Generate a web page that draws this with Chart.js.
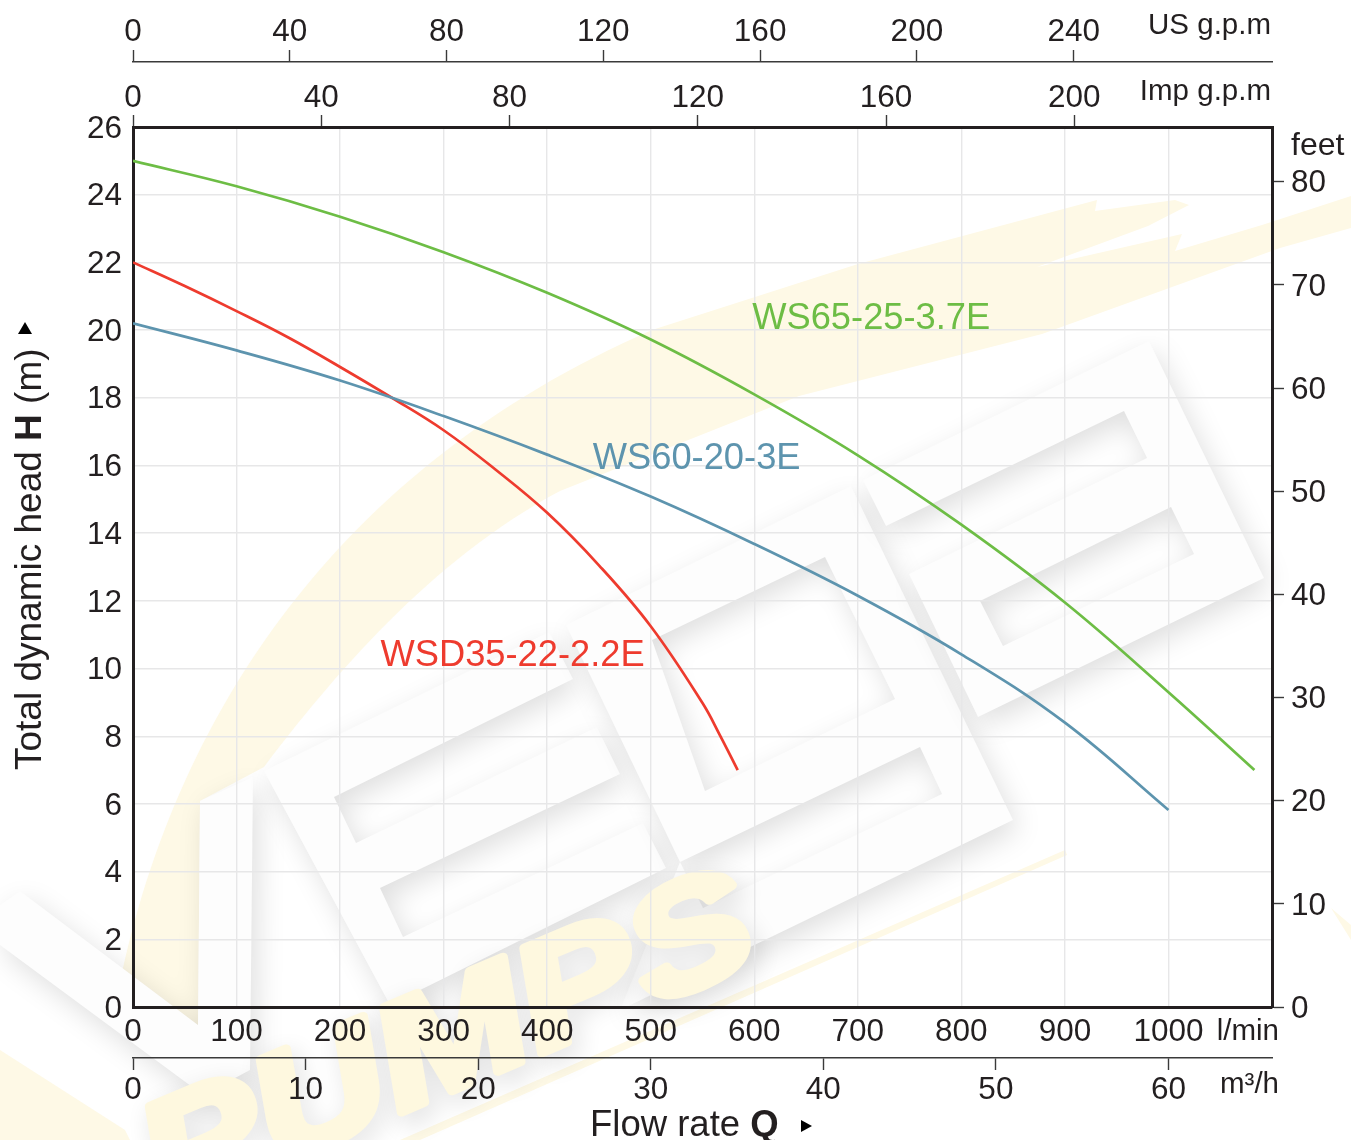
<!DOCTYPE html>
<html><head><meta charset="utf-8">
<style>html,body{margin:0;padding:0;background:#fff}canvas{display:block}</style>
<script src="https://cdn.jsdelivr.net/npm/chart.js@4"></script>
</head><body><canvas id="c" width="1351" height="1140"></canvas>
<script>
// Series values (flow in l/min, head in m)
const greenFlow=[0,100,200,300,400,500,600,700,800,900,1000,1083];
const greenHead=[25.0,24.25,23.35,22.3,21.1,19.72,18.1,16.3,14.25,11.95,9.3,7.0];
const blueFlow=[0,100,200,300,400,500,600,700,800,900,1000];
const blueHead=[20.2,19.4,18.51,17.46,16.32,15.08,13.68,12.15,10.42,8.4,5.82];
const redFlow=[0,50,100,150,200,250,300,350,400,450,500,550,567,584];
const redHead=[22.0,21.3,20.56,19.78,18.91,18.0,17.04,15.88,14.6,13.05,11.25,8.98,8.02,7.0];
const seriesNames=['WS65-25-3.7E','WS60-20-3E','WSD35-22-2.2E'];
const seriesColors=['#6dbd45','#5d94ae','#ee3b2e'];
const labelFlow=[598,444,239];
const labelHead=[20.33,16.19,10.36];
// Axis ranges and tick labels
const lpmMax=1100, headMax=26, feetMax=85.3, m3hMax=66, impMax=242, usMax=290.6;
const lpmTicks=[0,100,200,300,400,500,600,700,800,900,1000];
const m3hTicks=[0,10,20,30,40,50,60];
const impTicks=[0,40,80,120,160,200];
const usTicks=[0,40,80,120,160,200,240];
const headTicks=[0,2,4,6,8,10,12,14,16,18,20,22,24,26];
const feetTicks=[0,10,20,30,40,50,60,70,80];
const unitTexts=['US g.p.m','Imp g.p.m','feet','l/min','m³/h'];
const FONT='"Liberation Sans"';
const INK='#231f20';

function toPts(xs,ys){return xs.map((x,i)=>({x,y:ys[i]}));}
function poly(ctx,p){ctx.moveTo(p[0][0],p[0][1]);for(let i=1;i<p.length;i++)ctx.lineTo(p[i][0],p[i][1]);ctx.closePath();}
function useTicks(list){return s=>{s.ticks=list.map(v=>({value:v}));};}

const watermark={id:'watermark',beforeDraw(chart){
  const ctx=chart.ctx;ctx.save();
  ctx.fillStyle='#fff';ctx.fillRect(0,0,1351,1140);
  // yellow swoosh
  ctx.fillStyle='#fef9e6';
  ctx.beginPath();
  ctx.moveTo(115,1010);
  ctx.bezierCurveTo(165,730,330,470,652,330);
  [[858,264],[1097,200],[1095,211],[1175,200],[1189,205],[1148,226],[1037,267],[1182,234],[1175,251],[1262,225],[1351,196],[1351,228],[1280,248],[1042,334],[799,396],[560,491]].forEach(p=>ctx.lineTo(p[0],p[1]));
  ctx.bezierCurveTo(430,560,330,680,264,767);
  [[200,801],[198,1030],[150,1000]].forEach(p=>ctx.lineTo(p[0],p[1]));
  ctx.closePath();ctx.fill();
  // thin stripes
  ctx.beginPath();poly(ctx,[[1065,850],[1067,855],[420,1140],[400,1140]]);ctx.fill();
  ctx.beginPath();poly(ctx,[[1331,908],[1351,925],[1351,940]]);ctx.fill();
  ctx.beginPath();poly(ctx,[[0,1050],[125,1130],[130,1140],[0,1140]]);ctx.fill();
  // logo blocks with soft shadows
  ctx.shadowColor='rgba(0,0,0,0.13)';ctx.shadowBlur=28;ctx.shadowOffsetX=6;ctx.shadowOffsetY=9;
  ctx.fillStyle='#fdfdfd';
  const blocks=[
   [[[20,891],[198,1025],[200,801],[253,777],[250,1070],[203,1095],[0,945],[0,905]]],
   [[[264,771],[549,632],[573,679],[334,797],[356,843],[597,727],[620,774],[380,888],[403,937],[643,823],[666,868],[390,1005]]],
   [[[566,625],[851,486],[1013,820],[620,1010],[680,862],[703,908],[942,794],[920,747],[680,862]],[[652,640],[825,557],[895,699],[705,791]]],
   [[[863,480],[886,526],[1124,411],[1147,458],[909,574],[978,717],[1264,578],[1149,341]],[[980,601],[1171,507],[1194,554],[1003,646]]]
  ];
  blocks.forEach(parts=>{ctx.beginPath();parts.forEach(p=>poly(ctx,p));ctx.fill('evenodd');});
  // PUMPS lettering
  ctx.save();
  ctx.translate(165,1212);ctx.rotate(-0.40);ctx.scale(1.22,1);
  ctx.font='italic bold 150px '+FONT;ctx.fillStyle='#fef8df';ctx.strokeStyle='#fef8df';ctx.lineWidth=9;ctx.lineJoin='round';
  ctx.textAlign='left';ctx.textBaseline='alphabetic';
  ctx.shadowColor='rgba(0,0,0,0.16)';ctx.shadowBlur=24;ctx.shadowOffsetX=6;ctx.shadowOffsetY=8;
  ctx.strokeText('PUMPS',0,0);
  ctx.shadowColor='transparent';
  ctx.fillText('PUMPS',0,0);
  ctx.restore();
  ctx.restore();
}};

const annotations={id:'annotations',afterDraw(chart){
  const ctx=chart.ctx,sx=chart.scales.x,sy=chart.scales.y;ctx.save();
  ctx.textBaseline='middle';
  // curve labels
  ctx.font='36.3px '+FONT;ctx.textAlign='left';
  seriesNames.forEach((n,i)=>{ctx.fillStyle=seriesColors[i];ctx.fillText(n,sx.getPixelForValue(labelFlow[i]),sy.getPixelForValue(labelHead[i]));});
  // unit labels
  ctx.fillStyle=INK;ctx.font='29.5px '+FONT;ctx.textAlign='right';
  ctx.fillText(unitTexts[0],1271,26);
  ctx.fillText(unitTexts[1],1271,92);
  ctx.fillText(unitTexts[3],1279,1032);
  ctx.fillText(unitTexts[4],1279,1085);
  ctx.font='32px '+FONT;ctx.textAlign='left';
  ctx.fillText(unitTexts[2],1291,146);
  // axis titles
  ctx.font='36.5px '+FONT;ctx.textAlign='left';
  let x=590;const yb=1136;ctx.textBaseline='alphabetic';
  ctx.fillText('Flow rate ',x,yb);x+=ctx.measureText('Flow rate ').width;
  ctx.font='bold 36.5px '+FONT;ctx.fillText('Q',x,yb);
  ctx.beginPath();poly(ctx,[[801,1120],[801,1132],[812,1126]]);ctx.fillStyle='#000';ctx.fill();
  ctx.fillStyle=INK;
  ctx.save();ctx.translate(41,770);ctx.rotate(-Math.PI/2);
  let t=0;ctx.font='37px '+FONT;
  ctx.fillText('Total dynamic head ',0,0);t=ctx.measureText('Total dynamic head ').width;
  ctx.font='bold 37px '+FONT;ctx.fillText('H',t,0);t+=ctx.measureText('H').width;
  ctx.font='37px '+FONT;ctx.fillText(' (m)',t,0);
  ctx.restore();
  ctx.beginPath();poly(ctx,[[18,334],[32,334],[25,322]]);ctx.fillStyle='#000';ctx.fill();
  ctx.restore();
}};

const tickFont={family:FONT,size:31.5};
function hAxis(pos,weight,max,list,h,pad,extra){
  return Object.assign({type:'linear',position:pos,weight,min:0,max,
    afterFit(s){s.height=h;},
    afterBuildTicks:useTicks(list),
    grid:{display:true,drawOnChartArea:false,drawTicks:true,tickLength:12,tickColor:'#3a3a3a',tickWidth:1.4},
    border:{display:true,color:'#3a3a3a',width:1.4},
    ticks:{autoSkip:false,maxRotation:0,minRotation:0,padding:pad,color:INK,font:tickFont,callback:v=>String(v)}
  },extra||{});
}

new Chart(document.getElementById('c'),{
  type:'line',
  data:{datasets:[
    {label:seriesNames[0],data:toPts(greenFlow,greenHead),borderColor:seriesColors[0]},
    {label:seriesNames[1],data:toPts(blueFlow,blueHead),borderColor:seriesColors[1]},
    {label:seriesNames[2],data:toPts(redFlow,redHead),borderColor:seriesColors[2]}
  ].map(d=>Object.assign(d,{xAxisID:'x',yAxisID:'y',borderWidth:2.7,pointRadius:0,tension:0.4,fill:false}))},
  options:{
    responsive:false,animation:false,devicePixelRatio:1,
    layout:{padding:0},
    plugins:{legend:{display:false},tooltip:{enabled:false},title:{display:false}},
    scales:{
      x:{type:'linear',position:'bottom',weight:0,min:0,max:lpmMax,
        afterFit(s){s.height=51;},
        afterBuildTicks:useTicks(lpmTicks.concat([lpmMax])),
        grid:{color:'#e7e7e8',lineWidth:1.4,drawTicks:false},
        border:{display:true,color:INK,width:3},
        ticks:{autoSkip:false,maxRotation:0,minRotation:0,padding:6,color:INK,font:tickFont,callback:v=>v===lpmMax?'':String(v)}
      },
      m3h:hAxis('bottom',1,m3hMax,m3hTicks,82,1),
      imp:hAxis('top',0,impMax,impTicks,65,-2,{border:{display:true,color:INK,width:3}}),
      us:hAxis('top',1,usMax,usTicks,62,-1),
      y:{type:'linear',position:'left',min:0,max:headMax,
        afterFit(s){s.width=133;},
        afterBuildTicks:useTicks(headTicks),
        grid:{color:'#e7e7e8',lineWidth:1.4,drawTicks:false},
        border:{display:true,color:INK,width:3},
        ticks:{autoSkip:false,padding:11,labelOffset:2,color:INK,font:tickFont,callback:v=>String(v)}
      },
      feet:{type:'linear',position:'right',min:0,max:feetMax,
        afterFit(s){s.width=79;},
        afterBuildTicks:useTicks(feetTicks),
        grid:{display:true,drawOnChartArea:false,drawTicks:true,tickLength:12,tickColor:'#3a3a3a',tickWidth:1.4},
        border:{display:true,color:INK,width:3},
        ticks:{autoSkip:false,padding:7,labelOffset:2,color:INK,font:tickFont,callback:v=>String(v)}
      }
    }
  },
  plugins:[watermark,annotations]
});
</script></body></html>
